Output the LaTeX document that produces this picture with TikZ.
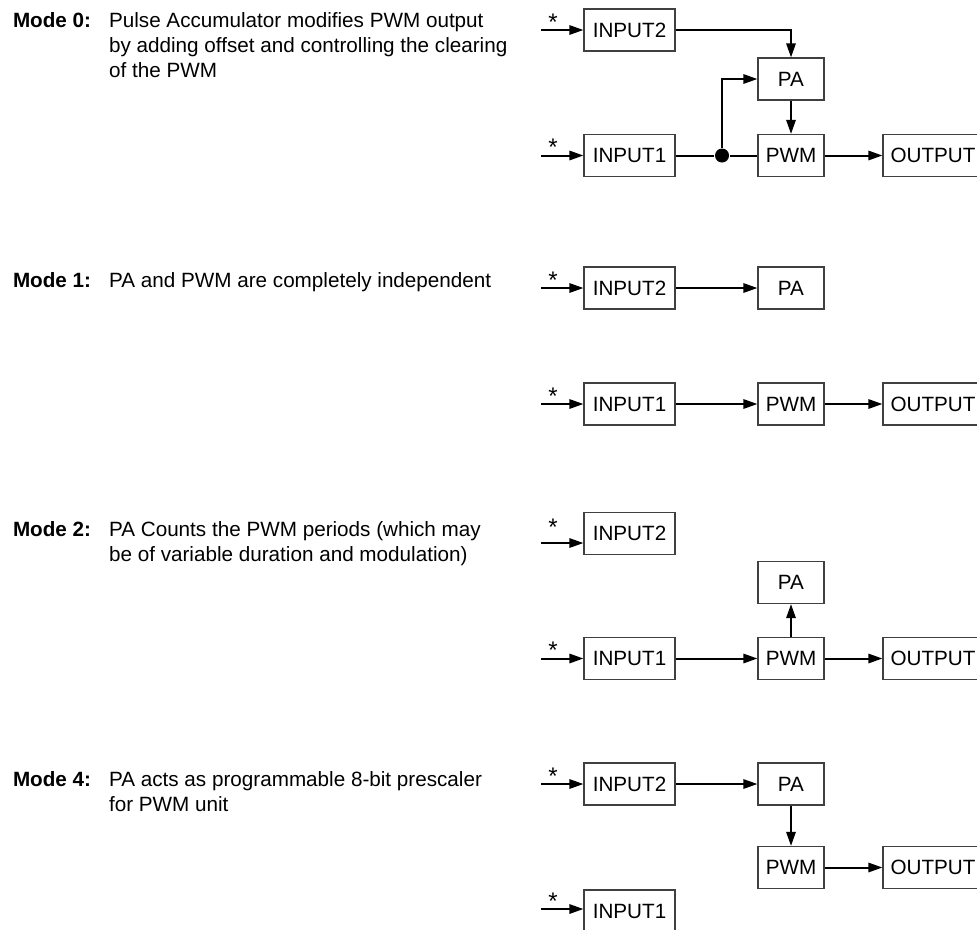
\documentclass[tikz,border=0pt]{standalone}
\usepackage{fontspec}
\setmainfont{Liberation Sans}
\usepackage{tikz}
\usetikzlibrary{arrows.meta}
\usetikzlibrary{positioning}
\tikzset{
    every node/.style={font=\fontsize{15.5}{18.75}\selectfont}
}

\begin{document}
\begin{tikzpicture}[
    x = 0.75pt, y = -0.75pt,
    > = {Triangle[length=10.5pt, width=7pt]},
    line width = 1.5pt,
    io node/.style = {draw=black!75, line width=0.9pt, minimum width=68.25pt, minimum height=31.5pt, inner sep=0pt},
    unit node/.style = {io node, minimum width=49.5pt},
    out node/.style = {io node, minimum width=75pt},
    mode label/.style = {anchor=base west, inner sep=0pt, font=\fontsize{15.5}{18.75}\selectfont\bfseries},
    mode text/.style = {inner sep=0pt, align=left},
    asterisk/.style = {anchor=base, inner sep=0pt, font=\fontsize{18}{20}\selectfont},
    junction/.style = {circle, fill, inner sep=0pt, minimum size=10.5pt}
]
\useasboundingbox (0,0) rectangle (977,929);
\clip (0,0) rectangle (977,929);

% Mode 0
\node[mode label] (lab0) at (12,27) {Mode 0:};
\node[mode text, right=12pt of lab0.north east, anchor=north west] (txt0) {Pulse Accumulator modifies PWM output\\by adding offset and controlling the clearing\\of the PWM};
\node[io node] (in20) at (629.5,30) {INPUT2};
\node[unit node] (pa0) at (791,79) {PA};
\node[io node] (in10) at (629.5,155.5) {INPUT1};
\node[junction] (j0) at (722,155.5) {};
\node[unit node] (pwm0) at (791,155.5) {PWM};
\node[out node] (out0) at (933,155.5) {OUTPUT};
\coordinate (s20) at (541,30);
\coordinate (s10) at (541,155.5);
\node[asterisk] (a20) at (553,30) {*};
\node[asterisk] (a10) at (553,155.5) {*};

\draw[->] (s20) -- (in20);
\draw[->] (s10) -- (in10);
\draw[->] (in20) -| (pa0);
\draw (in10) -- (j0) -- (pwm0);
\draw[->] (j0) |- (pa0);
\draw[->] (pa0) -- (pwm0);
\draw[->] (pwm0) -- (out0);

% Mode 1
\node[mode label] (lab1) at (12,287) {Mode 1:};
\node[mode text, right=12pt of lab1.north east, anchor=north west] (txt1) {PA and PWM are completely independent};
\node[io node] (in21) at (629.5,288) {INPUT2};
\node[unit node] (pa1) at (791,288) {PA};
\node[io node] (in11) at (629.5,404) {INPUT1};
\node[unit node] (pwm1) at (791,404) {PWM};
\node[out node] (out1) at (933,404) {OUTPUT};
\coordinate (s21) at (541,288);
\coordinate (s11) at (541,404);
\node[asterisk] (a21) at (553,288) {*};
\node[asterisk] (a11) at (553,404) {*};

\draw[->] (s21) -- (in21);
\draw[->] (s11) -- (in11);
\draw[->] (in21) -- (pa1);
\draw[->] (in11) -- (pwm1);
\draw[->] (pwm1) -- (out1);

% Mode 2
\node[mode label] (lab2) at (12,536) {Mode 2:};
\node[mode text, right=12pt of lab2.north east, anchor=north west] (txt2) {PA Counts the PWM periods (which may\\be of variable duration and modulation)};
\node[io node] (in22) at (629.5,533.5) {INPUT2};
\node[unit node] (pa2) at (791,582.5) {PA};
\node[io node] (in12) at (629.5,658.5) {INPUT1};
\node[unit node] (pwm2) at (791,658.5) {PWM};
\node[out node] (out2) at (933,658.5) {OUTPUT};
\coordinate (s22) at (541,543);
\coordinate (s12) at (541,658.5);
\node[asterisk] (a22) at (553,535) {*};
\node[asterisk] (a12) at (553,658.5) {*};

\draw[->] (s22) -- (s22 -| in22.west);
\draw[->] (s12) -- (in12);
\draw[->] (in12) -- (pwm2);
\draw[->] (pwm2) -- (pa2);
\draw[->] (pwm2) -- (out2);

% Mode 4
\node[mode label] (lab4) at (12,786) {Mode 4:};
\node[mode text, right=12pt of lab4.north east, anchor=north west] (txt4) {PA acts as programmable 8-bit prescaler\\for PWM unit};
\node[io node] (in24) at (629.5,784) {INPUT2};
\node[unit node] (pa4) at (791,784) {PA};
\node[unit node] (pwm4) at (791,867.5) {PWM};
\node[out node] (out4) at (933,867.5) {OUTPUT};
\node[io node] (in14) at (629.5,911) {INPUT1};
\coordinate (s24) at (541,784);
\coordinate (s14) at (541,909);
\node[asterisk] (a24) at (553,784) {*};
\node[asterisk] (a14) at (553,909) {*};

\draw[->] (s24) -- (in24);
\draw[->] (s14) -- (s14 -| in14.west);
\draw[->] (in24) -- (pa4);
\draw[->] (pa4) -- (pwm4);
\draw[->] (pwm4) -- (out4);

\end{tikzpicture}
\end{document}
